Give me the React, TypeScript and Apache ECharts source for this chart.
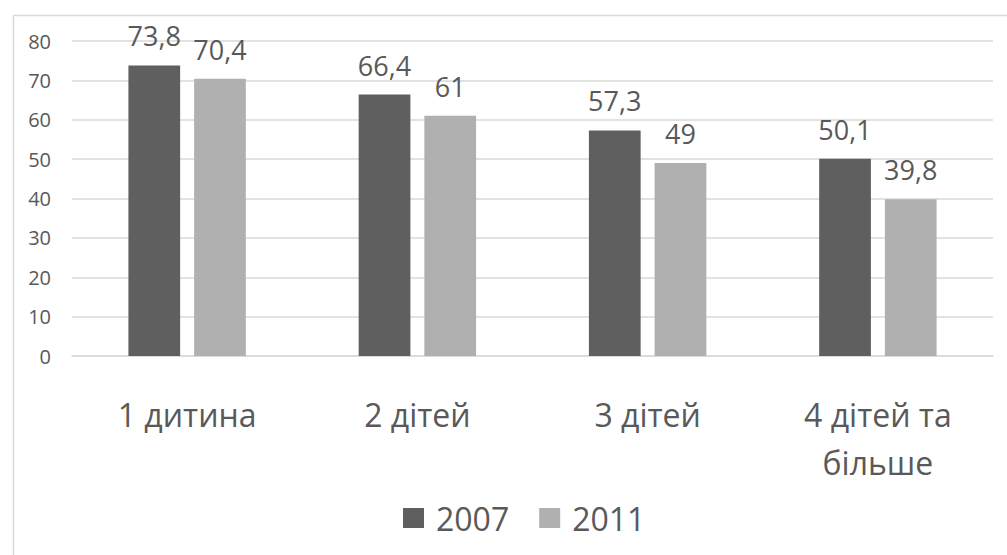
import React, { useEffect, useRef } from "react";
import * as echarts from "echarts";

const categories = ["1 дитина", "2 дітей", "3 дітей", "4 дітей та більше"];
const series2007 = [73.8, 66.4, 57.3, 50.1];
const series2011 = [70.4, 61, 49, 39.8];
const seriesNames = ["2007", "2011"];
const yTicks = { min: 0, max: 80, interval: 10 };

const FONT = "'Open Sans', 'Noto Sans', sans-serif";
const TEXT = "#595959";

export default function App() {
  const ref = useRef<HTMLDivElement>(null);
  useEffect(() => {
    if (!ref.current) return;
    const chart = echarts.init(ref.current, undefined, { renderer: "svg" });
    const fmt = (p: any) => String(p.value).replace(".", ",");
    chart.setOption({
      animation: false,
      backgroundColor: "#ffffff",
      textStyle: { fontFamily: FONT },
      graphic: [
        {
          type: "rect",
          left: 11,
          top: 13,
          shape: { width: 1100, height: 700 },
          style: { fill: "none", stroke: "#d9d9d9", lineWidth: 1.5 },
          silent: true,
        },
      ],
      grid: { left: 72, right: 14, top: 41, bottom: 199 },
      legend: {
        data: seriesNames,
        bottom: 16,
        left: 398,
        itemWidth: 21,
        itemHeight: 20,
        itemGap: 30,
        icon: "rect",
        textStyle: { fontSize: 32, color: TEXT, fontFamily: FONT, padding: [0, 0, 0, 7] },
      },
      xAxis: {
        type: "category",
        data: categories,
        axisLine: { lineStyle: { color: "#d9d9d9", width: 1.5 } },
        axisTick: { show: false },
        axisLabel: {
          interval: 0,
          margin: 34,
          fontSize: 32,
          color: TEXT,
          fontFamily: FONT,
          lineHeight: 48,
          formatter: (v: string) => v.replace("та ", "та\n"),
        },
      },
      yAxis: {
        type: "value",
        min: yTicks.min,
        max: yTicks.max,
        interval: yTicks.interval,
        axisLine: { show: false },
        axisTick: { show: false },
        splitLine: { lineStyle: { color: "#d9d9d9", width: 1.5 } },
        axisLabel: { fontSize: 20, color: TEXT, fontFamily: FONT, margin: 21 },
      },
      series: [
        {
          name: seriesNames[0],
          type: "bar",
          data: series2007,
          barGap: "27%",
          barCategoryGap: "49%",
          itemStyle: { color: "#5f5f5f" },
          label: { show: true, position: "top", distance: 16, fontSize: 27, color: TEXT, fontFamily: FONT, formatter: fmt },
        },
        {
          name: seriesNames[1],
          type: "bar",
          data: series2011,
          itemStyle: { color: "#b0b0b0" },
          label: { show: true, position: "top", distance: 16, fontSize: 27, color: TEXT, fontFamily: FONT, formatter: fmt },
        },
      ],
    });
    return () => chart.dispose();
  }, []);
  return (
    <div
      ref={ref}
      style={{ position: "absolute", left: 0, top: 0, width: 1007, height: 555 }}
    />
  );
}
